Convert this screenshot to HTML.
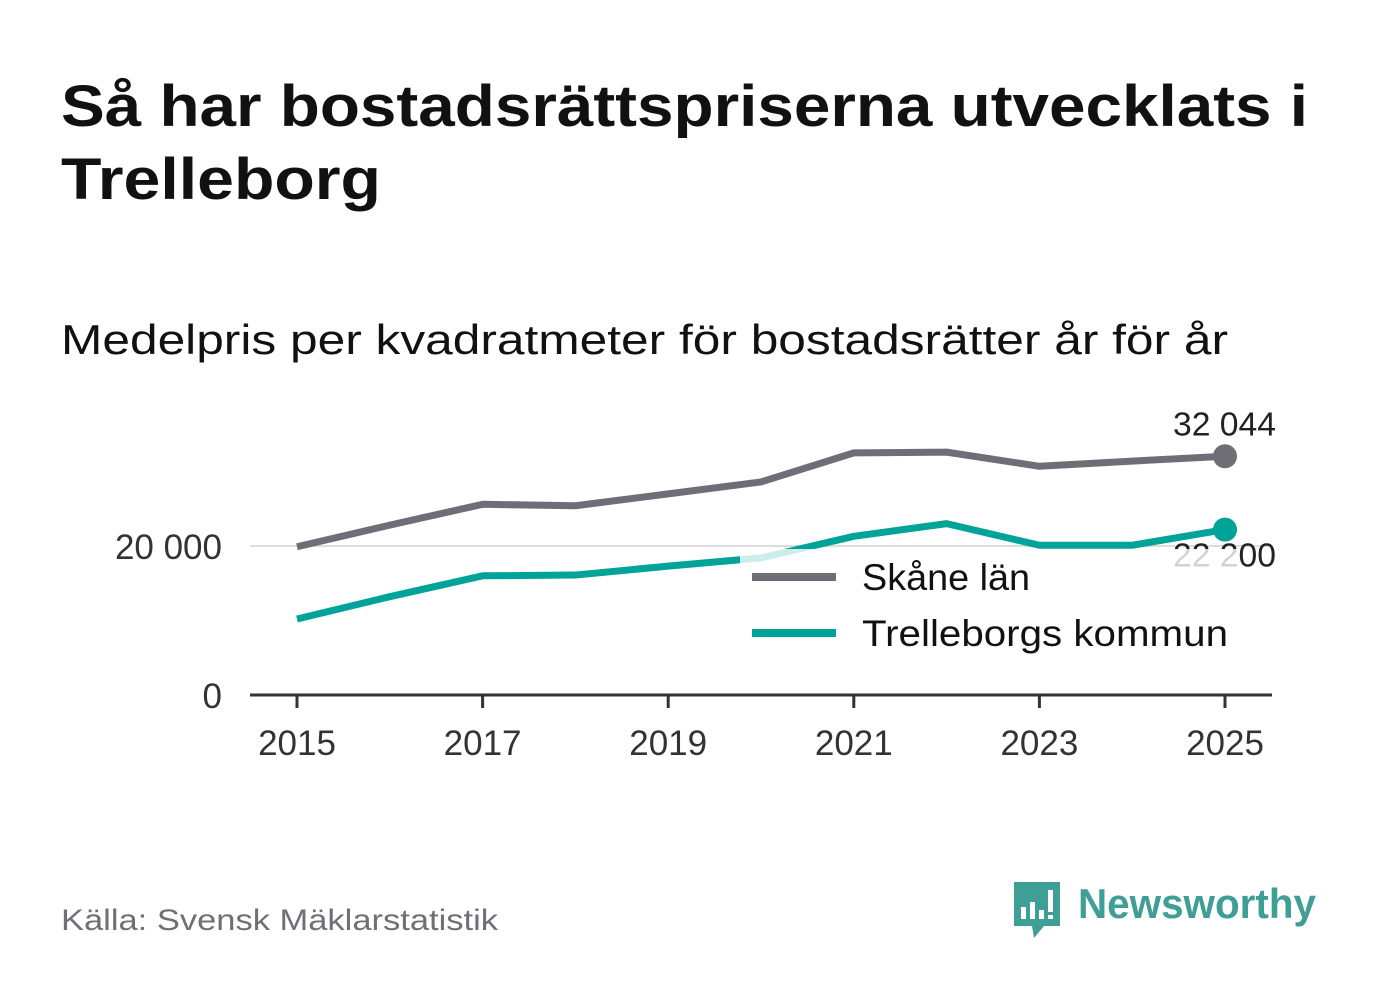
<!DOCTYPE html>
<html><head><meta charset="utf-8"><style>
body{margin:0;background:#fff;width:1382px;height:999px;overflow:hidden;font-family:"Liberation Sans","DejaVu Sans",sans-serif}
</style></head><body>
<svg width="1382" height="999" xmlns="http://www.w3.org/2000/svg">
<text x="61" y="126" font-size="58" font-weight="bold" fill="#111" textLength="1247" lengthAdjust="spacingAndGlyphs">Så har bostadsrättspriserna utvecklats i</text>
<text x="61" y="199" font-size="58" font-weight="bold" fill="#111" textLength="320" lengthAdjust="spacingAndGlyphs">Trelleborg</text>
<text x="61" y="354" font-size="42" fill="#111" textLength="1167" lengthAdjust="spacingAndGlyphs">Medelpris per kvadratmeter för bostadsrätter år för år</text>
<g id="plot"></g>
<text x="61" y="930" font-size="30" fill="#6f6f76" textLength="437" lengthAdjust="spacingAndGlyphs">Källa: Svensk Mäklarstatistik</text>
<g>
<path d="M1014 882 h46 v44 h-16 l-10 12 l-2 -12 h-18 z" fill="#3f9e96"/>
<rect x="1021" y="907" width="5" height="12" fill="#fff"/><rect x="1030" y="902" width="5" height="17" fill="#fff"/><rect x="1039" y="910" width="5" height="9" fill="#fff"/><rect x="1048" y="890" width="5" height="22" fill="#fff"/><rect x="1048" y="915" width="5" height="4" fill="#fff"/>
<text x="1078" y="918" font-size="42" font-weight="bold" fill="#3f9e96" textLength="238" lengthAdjust="spacingAndGlyphs">Newsworthy</text>
</g>
</svg>
<script>
const years=[2015,2016,2017,2018,2019,2020,2021,2022,2023,2024,2025];
const skane=[19900,22800,25600,25400,27000,28600,32500,32600,30700,31400,32044];
const trelle=[10200,13200,16000,16100,17300,18400,21300,23000,20100,20100,22200];
const yTicks=[0,20000];
const yTickLabels=["0","20 000"];
const xTicks=[2015,2017,2019,2021,2023,2025];
const NS="http://www.w3.org/2000/svg";
const X=v=>297+(v-2015)*92.8;
const Y=v=>695-v*149/20000;
const g=document.getElementById('plot');
function mk(t,a,txt){const e=document.createElementNS(NS,t);for(const k in a)e.setAttribute(k,a[k]);if(txt!==undefined)e.textContent=txt;g.appendChild(e);return e;}
yTicks.forEach((t,i)=>{
 if(t>0){const l=mk('line',{x1:250,x2:1270,y1:Y(t),y2:Y(t),stroke:'#ddd','stroke-width':2});
 
 }
 const tx=mk('text',{x:222,y:Y(t)+13,'font-size':35,fill:'#333','text-anchor':'end'},yTickLabels[i]);
 
 
});
const ax=mk('line',{x1:250,x2:1272,y1:695,y2:695,stroke:'#333','stroke-width':3});


xTicks.forEach(t=>{
 const tk=mk('line',{x1:X(t),x2:X(t),y1:695,y2:708,stroke:'#333','stroke-width':3});
 
 
 const tx=mk('text',{x:X(t),y:755,'font-size':35,fill:'#333','text-anchor':'middle'},String(t));
 
 
});
function series(vals,col,name){
 const p=mk('polyline',{points:vals.map((v,i)=>X(years[i])+','+Y(v)).join(' '),fill:'none',stroke:col,'stroke-width':7,'stroke-linejoin':'round'});
 
 
 const n=vals.length-1;
 const c=mk('circle',{cx:X(years[n]),cy:Y(vals[n]),r:12,fill:col});
 
 
}
series(skane,'#6f6e76','skane');
series(trelle,'#00a397','trelleborg');
const fmt=v=>String(Math.round(v)).replace(/\B(?=(\d{3})+$)/g,' ');
const l1=mk('text',{x:1276,y:Y(skane[10])-21,'font-size':33,fill:'#222','text-anchor':'end',textLength:103,lengthAdjust:'spacingAndGlyphs'},fmt(skane[10]));


const l2=mk('text',{x:1276,y:Y(trelle[10])+37,'font-size':33,fill:'#222','text-anchor':'end',textLength:103,lengthAdjust:'spacingAndGlyphs'},fmt(trelle[10]));


const lb=mk('rect',{x:740,y:549,width:498,height:112,fill:'#fff',opacity:0.8});


[['#6f6e76','Skåne län',577,168],['#00a397','Trelleborgs kommun',633,366]].forEach(([c,t,y,w])=>{
 const s=mk('line',{x1:752,x2:836,y1:y,y2:y,stroke:c,'stroke-width':8});
 
 
 const tx=mk('text',{x:862,y:y+13,'font-size':37,fill:'#111',textLength:w,lengthAdjust:'spacingAndGlyphs'},t);
 
 
});
</script>
</body></html>
